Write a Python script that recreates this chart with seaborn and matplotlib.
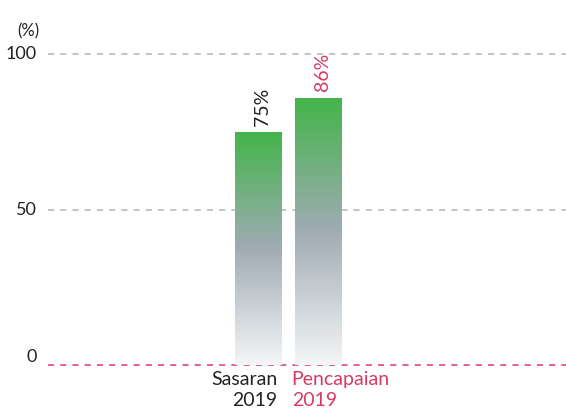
import numpy as np
import matplotlib
matplotlib.use("Agg")
import matplotlib.pyplot as plt
from matplotlib.colors import LinearSegmentedColormap
import seaborn as sns
import pandas as pd

categories = ["Sasaran\n2019", "Pencapaian\n2019"]
values = [75, 86]
value_labels = ["75%", "86%"]
y_ticks = [0, 50, 100]

PINK = "#d83a62"
TEXT = "#222222"

sns.set_theme(style="white")
plt.rcParams["font.family"] = ["Lato", "DejaVu Sans"]

fig = plt.figure(figsize=(5.66, 4.16), dpi=100)
ax = fig.add_axes([48 / 566, 51 / 416, 518 / 566, 342 / 416])

df = pd.DataFrame({"cat": categories, "val": values})
sns.barplot(data=df, x="cat", y="val", ax=ax, width=0.78, color="#ffffff",
            edgecolor="none", zorder=3)

# vertical gradient fill for each bar: light at base, grey-blue mid, green top
grad = LinearSegmentedColormap.from_list(
    "bar_grad", [(0.0, "#f4f6f7"), (0.5, "#a0abb4"), (1.0, "#43b549")])
ramp = np.linspace(0, 1, 256).reshape(-1, 1)
for patch in ax.patches:
    x0, y0 = patch.get_x(), patch.get_y()
    w, h = patch.get_width(), patch.get_height()
    im = ax.imshow(ramp, cmap=grad, origin="lower", aspect="auto",
                   extent=[x0, x0 + w, y0, y0 + h], zorder=4)
    im.set_clip_path(patch)
ax.set_xlim(-3.51, 5.12)
ax.set_ylim(0, 110)

# gridlines
for t in y_ticks:
    ax.axhline(t, color=PINK if t == 0 else "#b5b5b5", lw=1.1,
               ls=(0, (4, 4)), zorder=1, clip_on=False)

# value labels, rotated above each bar
label_colors = [TEXT, PINK]
for i, (v, lab) in enumerate(zip(values, value_labels)):
    ax.text(i + 0.07, v + 2, lab, rotation=90, ha="center", va="bottom",
            fontsize=14, color=label_colors[i], zorder=5)

# category labels below the bars
ax.set_xticks([])
ax.set_xlabel("")
ax.text(0.31, -2, categories[0], ha="right", va="top", fontsize=14,
        color=TEXT, linespacing=1.3)
ax.text(0.55, -2, categories[1], ha="left", va="top", fontsize=14,
        color=PINK, linespacing=1.3)

ax.set_yticks(y_ticks)
ax.set_yticklabels([str(t) for t in y_ticks], fontsize=13, color=TEXT)
ax.tick_params(axis="y", length=0, pad=8)
ticklabels = ax.get_yticklabels()
for lbl in ticklabels:
    lbl.set_va("center")
ticklabels[0].set_va("bottom")
ax.set_ylabel("")
ax.text(-0.017, 107.4, "(%)", transform=ax.get_yaxis_transform(),
        ha="right", va="center", fontsize=12, color=TEXT)

for s in ax.spines.values():
    s.set_visible(False)

fig.savefig("out.png", dpi=100)
